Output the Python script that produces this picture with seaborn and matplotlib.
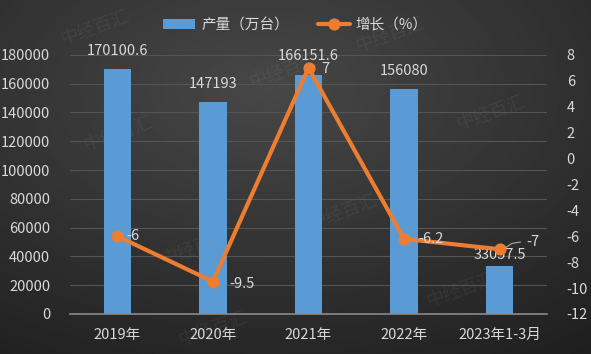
import matplotlib.pyplot as plt
import numpy as np
import pandas as pd
import seaborn as sns

years = ["2019年", "2020年", "2021年", "2022年", "2023年1-3月"]
output = [170100.6, 147193, 166151.6, 156080, 33057.5]
growth = [-6, -9.5, 7, -6.2, -7]
output_labels = ["170100.6", "147193", "166151.6", "156080", "33057.5"]
growth_labels = ["-6", "-9.5", "7", "-6.2", "-7"]

sns.set_style("dark")
plt.rcParams['font.family'] = ['Noto Sans CJK SC', 'DejaVu Sans']
plt.rcParams['axes.unicode_minus'] = False

txt_color = "#d9d9d9"
blue = "#5b9bd5"
orange = "#ed7d31"

fig = plt.figure(figsize=(5.91, 3.54), dpi=100)

# dark gradient background
bg = fig.add_axes([0, 0, 1, 1])
yy, xx = np.mgrid[0:1:200j, 0:1:300j]
shade = 0.28 - 0.17 * np.sqrt((xx - 0.45) ** 2 + (yy - 0.25) ** 2)
bg.imshow(shade, cmap="gray", vmin=0, vmax=1, aspect="auto", extent=[0, 1, 0, 1], origin="upper")
bg.set_axis_off()

# faint watermarks
for wx, wy in [(0.16, 0.92), (0.48, 0.80), (0.66, 0.90), (0.20, 0.62), (0.83, 0.68),
               (0.33, 0.30), (0.58, 0.40), (0.36, 0.07), (0.78, 0.18)]:
    bg.text(wx, wy, "中经百汇", color="white", alpha=0.06, fontsize=13, rotation=20,
            ha="center", va="center", transform=bg.transAxes)

ax = fig.add_axes([0.118, 0.113, 0.808, 0.732])
ax.patch.set_alpha(0)
df = pd.DataFrame({"year": years, "output": output})
sns.barplot(data=df, x="year", y="output", ax=ax, color=blue, width=0.29,
            saturation=1, linewidth=0, edgecolor="none", label="产量（万台）")
ax.set_ylim(0, 180000)
ax.set_yticks(np.arange(0, 180001, 20000))
ax.set_xlim(-0.5, 4.5)
ax.set_xlabel("")
ax.set_ylabel("")
ax.grid(axis="y", color="#555555", linewidth=0.8)
ax.set_axisbelow(True)
for s in ["top", "left", "right"]:
    ax.spines[s].set_visible(False)
ax.spines["bottom"].set_color("#8a8a8a")
ax.spines["bottom"].set_linewidth(1.2)
ax.tick_params(axis="both", colors=txt_color, labelsize=10.5, length=0)
ax.tick_params(axis="x", pad=10)
ax.tick_params(axis="y", pad=14)

for i, (v, lab) in enumerate(zip(output, output_labels)):
    if i == 4:
        continue
    ax.text(i, v + 8000, lab, ha="center", va="bottom", color=txt_color, fontsize=10.5)
ax.text(4, output[4] + 3000, output_labels[4], ha="center", va="bottom", color=txt_color, fontsize=10.5)

ax2 = ax.twinx()
sns.lineplot(x=np.arange(len(years)), y=growth, ax=ax2, color=orange, linewidth=3,
             marker="o", markersize=8, markeredgecolor=orange, label="增长（%）")
ax2.set_ylim(-12, 8)
ax2.set_yticks(np.arange(-12, 9, 2))
ax2.set_xlim(-0.5, 4.5)
for s in ["top", "left", "right", "bottom"]:
    ax2.spines[s].set_visible(False)
ax2.tick_params(axis="y", colors=txt_color, labelsize=10.5, length=0, pad=14)

offsets = [(0.09, 0.0), (0.17, -0.15), (0.18, -0.1), (0.15, 0.0), (0.28, 0.55)]
for i, (g, lab) in enumerate(zip(growth, growth_labels)):
    dx, dy = offsets[i]
    ax2.text(i + dx, g + dy, lab, ha="left" if i != 2 else "center", va="center",
             color=txt_color, fontsize=10.5)
ax2.plot([4.06, 4.13, 4.22], [-6.9, -6.55, -6.45], color="#aaaaaa", linewidth=0.8)

h1, l1 = ax.get_legend_handles_labels()
h2, l2 = ax2.get_legend_handles_labels()
ax.legend_ = None
if ax2.get_legend():
    ax2.get_legend().remove()
fig.legend(h1 + h2, l1 + l2, loc="upper center", bbox_to_anchor=(0.5, 0.985), ncol=2,
           frameon=False, fontsize=10.5, labelcolor=txt_color, handlelength=2.2,
           handletextpad=0.4, columnspacing=2.0)

fig.savefig("out.png", dpi=100)
